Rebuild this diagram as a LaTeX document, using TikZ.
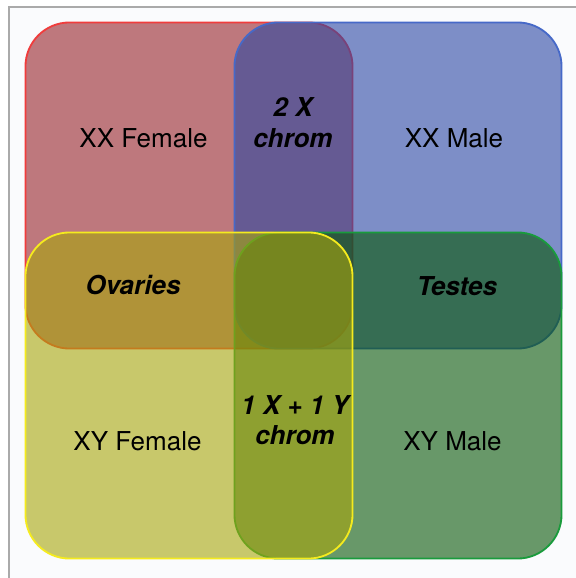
\documentclass[tikz,border=0pt]{standalone}
\usepackage{fontspec}
\setmainfont{TeX Gyre Heros}
\usepackage{tikz}
\definecolor{boxred}{RGB}{150,33,40}
\definecolor{boxblue}{RGB}{43,70,163}
\definecolor{boxyellow}{RGB}{168,166,10}
\definecolor{boxgreen}{RGB}{7,87,7}
\definecolor{edgered}{RGB}{240,60,60}
\definecolor{edgeblue}{RGB}{70,105,200}
\definecolor{edgeyellow}{RGB}{245,235,30}
\definecolor{edgegreen}{RGB}{25,155,60}
\definecolor{framegray}{RGB}{170,170,170}
\definecolor{paper}{RGB}{250,251,253}

\tikzset{
  box/.style={draw, rectangle, rounded corners=1.1cm, line width=1.3pt, fill opacity=0.6,
    minimum width=8.175cm, minimum height=8.15cm, inner sep=0pt},
  tag/.style={font=\fontsize{18.5}{21.7}\selectfont, anchor=base},
  key/.style={font=\fontsize{18.5}{21.7}\selectfont\bfseries\itshape, align=center}
}

\begin{document}
\begin{tikzpicture}[x=0.025cm, y=-0.025cm]
  \useasboundingbox (0,0) rectangle (576,578);
  % Page
  \fill[paper] (9,7) rectangle (576,578);
  \draw[framegray, line width=1pt] (9,578) -- (9,7) -- (576,7);

  % Four boxes
  \node[box, draw=edgered, fill=boxred] (red) at (189,185.5) {};
  \node[box, draw=edgeblue, fill=boxblue] (blue) at (398,185.5) {};
  \node[box, draw=edgegreen, fill=boxgreen] (green) at (398,395.5) {};
  \node[box, draw=edgeyellow, fill=boxyellow] (yellow) at (189,395.5) {};

  % Corner labels
  \node[tag] (xxf) at (143.5,147) {XX Female};
  \node[tag] (xxm) at (454,147) {XX Male};
  \node[tag] (xyf) at (137.5,450) {XY Female};
  \node[tag] (xym) at (452.5,450) {XY Male};

  % Overlap labels
  \node[key] (twox) at (293,122.5) {2 X\\chrom};
  \node[key, anchor=base] (ovaries) at (133,294) {Ovaries};
  \node[key, anchor=base] (testes) at (457,295) {Testes};
  \node[key] (xy) at (295,420) {1 X + 1 Y\\chrom};
\end{tikzpicture}
\end{document}
